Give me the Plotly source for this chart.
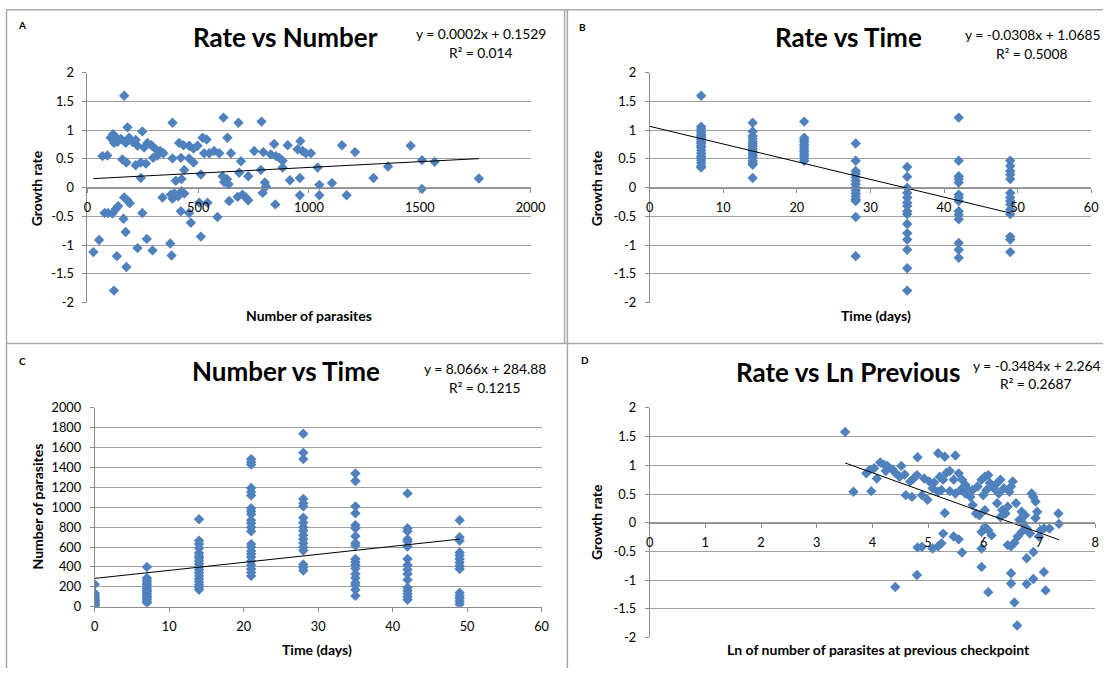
import plotly.graph_objects as go

W, H = 1118, 675
# Layout positions below are given in reference-picture pixels; the photographed page
# shows the figure slightly inset and scaled, so positions are mapped through this.
AX, SX = 5.0, 0.982
AY, SY = 8.7, 0.974

# ---------------- DATA ----------------
# Panel A: growth rate vs number of parasites
A_number = [166, 384, 614, 682, 786, 181,
            116, 105, 128, 136, 120, 151,
            188, 203, 218, 173, 226, 248,
            256, 271, 289, 309, 328, 343, 316, 297,
            68, 90, 158, 176, 218, 241, 264, 241,
            384, 422, 414, 434, 459, 399, 425, 437,
            520, 538, 497, 479, 512, 459, 479,
            550, 572, 595, 527, 632, 648, 693,
            753, 794, 828, 610, 630, 637, 617,
            685, 726, 783, 801, 806, 791,
            678, 700, 715, 726, 640, 542, 505, 339,
            384, 392, 410, 425, 437, 377, 422, 459, 467, 512, 587,
            166, 181, 191, 78, 93, 113, 128, 139, 163, 248, 173,
            53, 268, 27, 226, 294, 374, 380, 133, 176, 120,
            843, 904, 961, 949, 971, 986, 1009, 851, 866, 881, 881,
            1039, 914, 959, 1047, 1104, 1047, 959, 848,
            1149, 1208, 1170, 1291, 1357, 1459, 1510, 1567, 1510, 1767]
A_rate = [1.60, 1.13, 1.22, 1.13, 1.15, 1.05,
          0.93, 0.87, 0.88, 0.80, 0.78, 0.85,
          0.87, 0.80, 0.83, 0.78, 0.73, 0.98,
          0.70, 0.78, 0.74, 0.67, 0.64, 0.60, 0.56, 0.52,
          0.55, 0.56, 0.49, 0.44, 0.39, 0.44, 0.42, 0.17,
          0.51, 0.52, 0.78, 0.74, 0.73, 0.12, 0.15, 0.31,
          0.87, 0.84, 0.73, 0.68, 0.23, 0.51, 0.44,
          0.60, 0.64, 0.60, 0.60, 0.87, 0.60, 0.46,
          0.64, 0.62, 0.58, 0.20, 0.15, 0.06, 0.10,
          0.26, 0.20, 0.31, 0.09, 0.02, -0.09,
          -0.16, -0.12, -0.17, -0.22, -0.23, -0.26, -0.26, -0.17,
          -0.19, -0.10, -0.15, -0.06, -0.10, -0.12, -0.41, -0.44, -0.61, -0.85, -0.51,
          -0.17, -0.22, -0.27, -0.44, -0.44, -0.45, -0.37, -0.32, -0.54, -0.44, -0.77,
          -0.91, -0.89, -1.12, -1.05, -1.09, -0.97, -1.18, -1.19, -1.38, -1.79,
          0.76, 0.74, 0.81, 0.67, 0.64, 0.60, 0.60, 0.55, 0.52, 0.47, 0.35,
          0.35, 0.13, 0.17, 0.05, 0.08, -0.13, -0.13, -0.29,
          0.74, 0.62, -0.13, 0.17, 0.37, 0.73, 0.48, 0.45, -0.02, 0.16]

# Panel B: growth rate vs time (days)
B_time = ([7] * 20 + [14] * 16 + [21] * 12 + [28] * 15 + [35] * 15 + [42] * 14 + [49] * 14)
B_rate = [1.60, 1.06, 1.02, 0.97, 0.93, 0.90, 0.87, 0.84, 0.80, 0.77, 0.73, 0.70, 0.65, 0.60, 0.55, 0.52, 0.48, 0.43, 0.38, 0.35,
          1.13, 0.98, 0.90, 0.85, 0.80, 0.76, 0.72, 0.68, 0.64, 0.60, 0.56, 0.52, 0.47, 0.43, 0.40, 0.17,
          1.15, 0.87, 0.83, 0.79, 0.75, 0.71, 0.67, 0.63, 0.59, 0.55, 0.51, 0.47,
          0.77, 0.47, 0.29, 0.24, 0.18, 0.12, 0.06, 0.00, -0.05, -0.10, -0.15, -0.20, -0.23, -0.51, -1.19,
          0.36, 0.19, 0.00, -0.09, -0.17, -0.26, -0.32, -0.41, -0.46, -0.63, -0.79, -0.90, -1.08, -1.40, -1.79,
          1.22, 0.47, 0.20, 0.15, 0.09, -0.12, -0.17, -0.23, -0.41, -0.47, -0.55, -0.96, -1.08, -1.22,
          0.47, 0.38, 0.29, 0.23, 0.15, -0.09, -0.17, -0.23, -0.29, -0.38, -0.46, -0.85, -0.90, -1.12]

# Panel C: number of parasites vs time (days)
C_time = ([0] * 12 + [7] * 15 + [14] * 18 + [21] * 23 + [28] * 18 + [35] * 19 + [42] * 16 + [49] * 14)
C_number = [225, 135, 115, 100, 85, 70, 60, 45, 35, 25, 15, 5,
            400, 290, 265, 245, 225, 205, 185, 165, 150, 130, 110, 95, 75, 55, 40,
            880, 665, 630, 590, 540, 510, 490, 460, 430, 400, 370, 340, 310, 280, 250, 220, 195, 170,
            1485, 1455, 1430, 1195, 1155, 1120, 990, 960, 930, 870, 840, 800, 760, 630, 600, 560, 530, 500, 460, 420, 380, 345, 310,
            1740, 1550, 1485, 1085, 1040, 1010, 895, 845, 800, 765, 720, 680, 640, 600, 565, 425, 395, 365,
            1340, 1265, 1010, 940, 820, 790, 710, 640, 615, 480, 450, 420, 385, 330, 290, 240, 215, 170, 110,
            1140, 790, 760, 680, 655, 605, 480, 420, 375, 330, 270, 190, 160, 130, 100, 70,
            870, 700, 665, 545, 515, 480, 445, 410, 380, 140, 110, 85, 55, 25]

# Panel D: growth rate vs ln of number at previous checkpoint
D_ln_prev = [3.51, 3.66, 3.98, 3.89, 3.95, 4.03, 4.14, 4.21, 4.27, 4.08, 4.24, 4.36, 4.52,
             4.41, 4.49, 4.58, 4.68, 4.74, 4.80, 4.81, 4.60, 4.71, 4.89, 4.99, 4.93, 5.02, 5.11,
             5.18, 5.30, 5.49, 5.21, 5.27, 5.33, 5.39, 5.46, 5.08, 5.18, 5.24,
             5.55, 5.61, 5.67, 5.58, 5.49, 5.39, 5.70, 5.80, 5.89, 5.76, 5.67,
             5.30, 5.80, 5.86, 5.92, 6.02, 5.96, 6.02, 6.08, 6.11, 6.18, 6.05, 5.99,
             6.24, 6.30, 6.36, 6.27, 6.24, 6.33, 6.43, 6.39, 6.30, 6.52, 6.49, 6.46, 6.58,
             6.68, 6.74, 6.64, 6.71, 6.77, 6.83, 6.68, 6.61, 6.86, 6.89, 6.93, 6.96, 6.93,
             7.02, 7.08, 7.18, 7.34, 7.35, 6.99, 6.02, 6.08, 6.14, 5.96, 5.27, 5.46, 5.55, 5.61,
             4.81, 4.89, 5.08, 5.18, 5.24, 5.96, 6.43, 6.49, 6.55, 6.89, 6.77, 5.96, 4.80, 6.49,
             7.08, 4.41, 6.49, 6.77, 6.89, 6.08, 7.11, 6.55, 6.60]
D_rate = [1.58, 0.54, 0.55, 0.86, 0.92, 0.95, 1.05, 1.01, 0.99, 0.77, 0.90, 0.93, 0.99,
          0.87, 0.80, 0.84, 0.72, 0.77, 0.83, 1.14, 0.48, 0.45, 0.48, 0.40, 0.77, 0.72, 0.70,
          1.21, 1.15, 1.17, 0.80, 0.75, 0.87, 0.90, 0.75, 0.60, 0.54, 0.57,
          0.86, 0.75, 0.66, 0.57, 0.51, 0.55, 0.60, 0.57, 0.63, 0.45, 0.51,
          0.17, 0.31, 0.16, 0.13, 0.22, 0.75, 0.80, 0.83, 0.69, 0.60, 0.57, 0.48,
          0.69, 0.75, 0.60, 0.51, 0.34, 0.22, 0.28, 0.16, 0.10, 0.72, 0.63, 0.54, 0.34,
          0.19, 0.13, 0.05, -0.01, -0.10, -0.19, -0.16, -0.24, 0.51, 0.45, 0.37, 0.19, 0.08,
          -0.13, -0.10, -0.10, 0.16, -0.02, -0.24, -0.07, -0.13, -0.22, -0.16, -0.19, -0.24, -0.29, -0.52,
          -0.43, -0.42, -0.45, -0.41, -0.36, -0.45, -0.39, -0.41, -0.35, -0.51, -0.62, -0.77, -0.91, -0.88,
          -0.86, -1.12, -1.06, -1.07, -0.98, -1.21, -1.18, -1.39, -1.79]

# Trendline coefficients (as printed on the chart)
A_slope, A_icpt, A_r2 = 0.0002, 0.1529, "0.014"
B_slope, B_icpt, B_r2 = -0.0308, 1.0685, "0.5008"
C_slope, C_icpt, C_r2 = 8.066, 284.88, "0.1215"
D_slope, D_icpt, D_r2 = -0.3484, 2.264, "0.2687"

rate_ticks = [-2, -1.5, -1, -0.5, 0, 0.5, 1, 1.5, 2]
rate_ticktext = ["-2", "-1.5", "-1", "-0.5", "0", "0.5", "1", "1.5", "2"]
number_ticks = [0, 200, 400, 600, 800, 1000, 1200, 1400, 1600, 1800, 2000]
number_x_ticks = [0, 500, 1000, 1500, 2000]
time_ticks = [0, 10, 20, 30, 40, 50, 60]
ln_ticks = [0, 1, 2, 3, 4, 5, 6, 7, 8]

# ---------------- STYLE ----------------
FONT = "Lato"
BLUE = "#4F81BD"
GRID = "#A0A0A0"
AXIS = "#8C8C8C"


def qx(x):
    return (x - AX) / SX


def qy(y):
    return (y - AY) / SY


def px(x, raw=False):
    v = x if raw else qx(x)
    return min(max(v, 0), W) / W


def py(y, raw=False):
    v = y if raw else qy(y)
    return 1 - min(max(v, 0), H) / H


fig = go.Figure()


def scatter(x, y, xa, ya):
    fig.add_trace(go.Scatter(x=x, y=y, mode="markers", xaxis=xa, yaxis=ya,
                             marker=dict(symbol="diamond", size=8, color=BLUE,
                                         line=dict(width=0)),
                             showlegend=False, hoverinfo="x+y"))


def trend(x0, x1, m, b, xa, ya):
    fig.add_trace(go.Scatter(x=[x0, x1], y=[m * x0 + b, m * x1 + b], mode="lines",
                             xaxis=xa, yaxis=ya, line=dict(color="black", width=1),
                             showlegend=False, hoverinfo="skip"))


scatter(A_number, A_rate, "x", "y")
trend(min(A_number), max(A_number), A_slope, A_icpt, "x", "y")
scatter(B_time, B_rate, "x2", "y2")
trend(0, max(B_time), B_slope, B_icpt, "x2", "y2")
scatter(C_time, C_number, "x3", "y3")
trend(min(C_time), max(C_time), C_slope, C_icpt, "x3", "y3")
scatter(D_ln_prev, D_rate, "x4", "y4")
trend(min(D_ln_prev), max(D_ln_prev), D_slope, D_icpt, "x4", "y4")

tickfont = dict(family=FONT, size=12.8, color="black")


def xax(dom, rng, vals, anchor, position=None):
    d = dict(domain=dom, range=rng, tickmode="array", tickvals=vals,
             ticktext=[str(v) for v in vals], showgrid=False, zeroline=False,
             showline=True, linecolor=AXIS, linewidth=1, ticks="outside",
             ticklen=4, tickcolor=AXIS, tickfont=tickfont, ticklabelstandoff=4,
             fixedrange=True)
    if position is None:
        d["anchor"] = anchor
    else:
        d["anchor"] = "free"
        d["position"] = position
    return d


def yax(dom, rng, vals, text, anchor):
    return dict(domain=dom, range=rng, tickmode="array", tickvals=vals, ticktext=text,
                showgrid=True, gridcolor=GRID, gridwidth=1, zeroline=False,
                showline=True, linecolor=AXIS, linewidth=1, ticks="outside",
                ticklen=4, tickcolor=AXIS, tickfont=tickfont, ticklabelstandoff=6,
                anchor=anchor, fixedrange=True)


ydomA = [py(301.7), py(72.3)]
ydomC = [py(605), py(406.7)]
ydomD = [py(635.7), py(406.7)]
RIGHT_LIMIT = 1106  # keep the right-most tick label inside the figure

fig.update_layout(
    width=W, height=H, margin=dict(l=0, r=0, t=0, b=0),
    paper_bgcolor="white", plot_bgcolor="white",
    font=dict(family=FONT, color="black"),
    xaxis=xax([px(88.3), px(531)], [0, 2000], number_x_ticks, "y", sum(ydomA) / 2),
    yaxis=yax(ydomA, [-2, 2], rate_ticks, rate_ticktext, "x"),
    xaxis2=xax([px(650), px(RIGHT_LIMIT, raw=True)], [0, 60], time_ticks, "y2", sum(ydomA) / 2),
    yaxis2=yax(ydomA, [-2, 2], rate_ticks, rate_ticktext, "x2"),
    xaxis3=xax([px(95.7), px(542)], [0, 60], time_ticks, "y3"),
    yaxis3=yax(ydomC, [0, 2000], number_ticks, [str(v) for v in number_ticks], "x3"),
    xaxis4=xax([px(650), px(RIGHT_LIMIT + 4, raw=True)], [0, 8], ln_ticks, "y4", sum(ydomD) / 2),
    yaxis4=yax(ydomD, [-2, 2], rate_ticks, rate_ticktext, "x4"),
)

ann = []


def text(x, y, s, size, bold=False, angle=0, rawx=False):
    ann.append(dict(x=px(x, raw=rawx), y=py(y), xref="paper", yref="paper", showarrow=False,
                    text=("<b>%s</b>" % s) if bold else s, textangle=angle,
                    xanchor="center", yanchor="middle",
                    font=dict(family=FONT, size=size, color="black")))


def eq(m, b):
    sign = "+" if b >= 0 else "-"
    return "y = %sx %s %s" % (("%g" % m), sign, ("%g" % abs(b)))


TS, ES, LS = 26, 13.8, 14
# panel letters
text(22.5, 25, "A", 10, True)
text(582.5, 27, "B", 10, True)
text(23, 360, "C", 10, True)
text(585, 359, "D", 10, True)
# titles
text(286, 37, "Rate vs Number", TS, True)
text(849, 37, "Rate vs Time", TS, True)
text(287, 370, "Number vs Time", TS, True)
text(848.6, 371, "Rate vs Ln Previous", TS, True)
# trendline equations
text(482, 33, eq(A_slope, A_icpt), ES)
text(482, 52, "R² = " + A_r2, ES)
text(1046, 34, eq(B_slope, B_icpt), ES, rawx=True)
text(1046, 53, "R² = " + B_r2, ES, rawx=True)
text(486, 367, eq(C_slope, C_icpt), ES)
text(486, 386, "R² = " + C_r2, ES)
text(1050, 364, eq(D_slope, D_icpt), ES, rawx=True)
text(1050, 382, "R² = " + D_r2, ES, rawx=True)
# axis titles
text(37.5, 188, "Growth rate", LS, True, -90)
text(597, 188, "Growth rate", LS, True, -90)
text(38, 505, "Number of parasites", LS, True, -90)
text(597, 521, "Growth rate", LS, True, -90)
text(310, 314, "Number of parasites", LS, True)
text(876, 314, "Time (days)", LS, True)
text(318, 648, "Time (days)", LS, True)
text(879, 648, "Ln of number of parasites at previous checkpoint", LS, True)
fig.update_layout(annotations=ann)

# panel borders
border = dict(color="#A8A8A8", width=1.5)
top = 1 - 0.8 / H
left = px(7.5)
shapes = [
    dict(type="line", xref="paper", yref="paper", x0=left, x1=1, y0=top, y1=top, line=border),
    dict(type="line", xref="paper", yref="paper", x0=left, x1=1, y0=py(342.5), y1=py(342.5), line=border),
    dict(type="line", xref="paper", yref="paper", x0=left, x1=left, y0=top, y1=0, line=border),
    dict(type="line", xref="paper", yref="paper", x0=px(565), x1=px(565), y0=top, y1=py(342.5), line=border),
    dict(type="line", xref="paper", yref="paper", x0=px(567.8), x1=px(567.8), y0=top, y1=0, line=border),
]
fig.update_layout(shapes=shapes)

fig.write_html("out.html", config={"displayModeBar": False},
               post_script="document.body.style.margin='0';document.body.style.overflow='hidden';")
